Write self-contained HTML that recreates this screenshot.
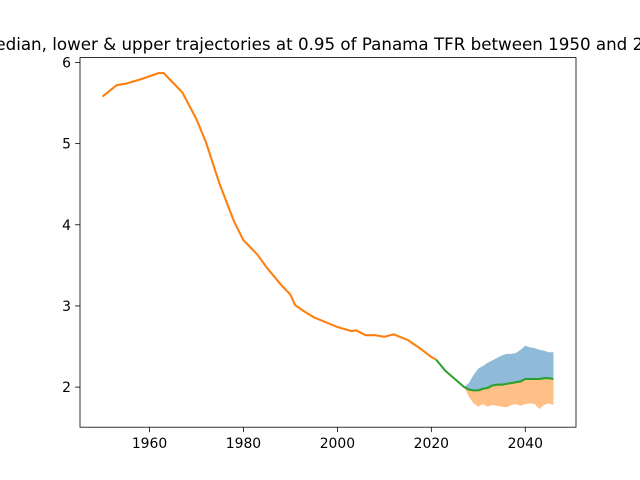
<!DOCTYPE html>
<html><head><meta charset="utf-8"><style>
html,body{margin:0;padding:0;background:#fff;width:640px;height:480px;overflow:hidden}
svg text{font-family:"DejaVu Sans","Liberation Sans",sans-serif}
</style></head><body>
<svg id="chart" width="640" height="480">
<rect width="640" height="480" fill="#fff"/>
<text x="328" y="50" font-size="16.7" text-anchor="middle">Median, lower &amp; upper trajectories at 0.95 of Panama TFR between 1950 and 2050</text>
<g id="plot"></g>
</svg>
<script>
const histYears=[1950,1953,1955,1958,1960,1962,1963,1965,1967,1970,1972,1975,1978,1980,1983,1985,1988,1990,1991,1993,1995,2000,2003,2004,2006,2008,2010,2012,2015,2018,2020,2021];
const histTFR=[5.58,5.72,5.74,5.79,5.83,5.87,5.87,5.75,5.63,5.30,5.02,4.49,4.04,3.81,3.63,3.47,3.26,3.14,3.01,2.93,2.86,2.74,2.69,2.70,2.64,2.64,2.62,2.65,2.58,2.46,2.37,2.34];
const projYears=[2021,2023,2025,2027,2028,2029,2030,2031,2032,2033,2034,2035,2036,2037,2038,2039,2040,2041,2042,2043,2044,2045,2046];
const median=[2.34,2.20,2.10,2.00,1.97,1.96,1.96,1.98,1.99,2.02,2.03,2.03,2.04,2.05,2.06,2.07,2.10,2.10,2.10,2.10,2.11,2.11,2.10];
const upper=[2.34,2.20,2.10,2.00,2.05,2.15,2.23,2.26,2.30,2.33,2.36,2.39,2.41,2.41,2.42,2.46,2.51,2.49,2.48,2.46,2.45,2.43,2.43];
const lower=[2.34,2.20,2.10,2.00,1.88,1.80,1.76,1.79,1.76,1.78,1.77,1.76,1.75,1.78,1.79,1.77,1.79,1.80,1.79,1.73,1.78,1.80,1.78];
const xTicks=[1960,1980,2000,2020,2040];
const yTicks=[2,3,4,5,6];
const L=80,R=576,T=57.6,B=427.2,x0=1945.2,x1=2050.8,y0=1.506,y1=6.06;
const X=v=>L+(v-x0)/(x1-x0)*(R-L);
const Y=v=>B-(v-y0)/(y1-y0)*(B-T);
const g=document.getElementById('plot');
const NS='http://www.w3.org/2000/svg';
function mk(tag,attrs){const e=document.createElementNS(NS,tag);for(const k in attrs)e.setAttribute(k,attrs[k]);g.appendChild(e);return e;}
let up=projYears.map((y,i)=>X(y)+','+Y(upper[i])).join(' ');
let md=projYears.map((y,i)=>X(y)+','+Y(median[i])).reverse().join(' ');
let el=mk('polygon',{points:up+' '+md,fill:'#1f77b4','fill-opacity':0.5});


let lo=projYears.map((y,i)=>X(y)+','+Y(lower[i])).join(' ');
let md2=projYears.map((y,i)=>X(y)+','+Y(median[i])).reverse().join(' ');
el=mk('polygon',{points:lo+' '+md2,fill:'#ff7f0e','fill-opacity':0.5});


el=mk('polyline',{points:projYears.map((y,i)=>X(y)+','+Y(median[i])).join(' '),fill:'none',stroke:'#2ca02c','stroke-width':2.08,'stroke-linejoin':'round'});


el=mk('polyline',{points:histYears.map((y,i)=>X(y)+','+Y(histTFR[i])).join(' '),fill:'none',stroke:'#ff7f0e','stroke-width':2.08,'stroke-linejoin':'round'});


el=mk('rect',{x:L,y:T,width:R-L,height:B-T,fill:'none',stroke:'#000','stroke-width':0.8});


xTicks.forEach(t=>{
  let l=mk('line',{x1:X(t),x2:X(t),y1:B,y2:B+4.9,stroke:'#000','stroke-width':0.8});
  
  
  let tx=mk('text',{x:X(t),y:B+21,'font-size':13.9,'text-anchor':'middle'});tx.textContent=t;
  
  
});
yTicks.forEach(t=>{
  let l=mk('line',{x1:L-4.9,x2:L,y1:Y(t),y2:Y(t),stroke:'#000','stroke-width':0.8});
  
  
  let tx=mk('text',{x:L-9,y:Y(t)+5,'font-size':13.9,'text-anchor':'end'});tx.textContent=t;
  
  
});
</script>
</body></html>
